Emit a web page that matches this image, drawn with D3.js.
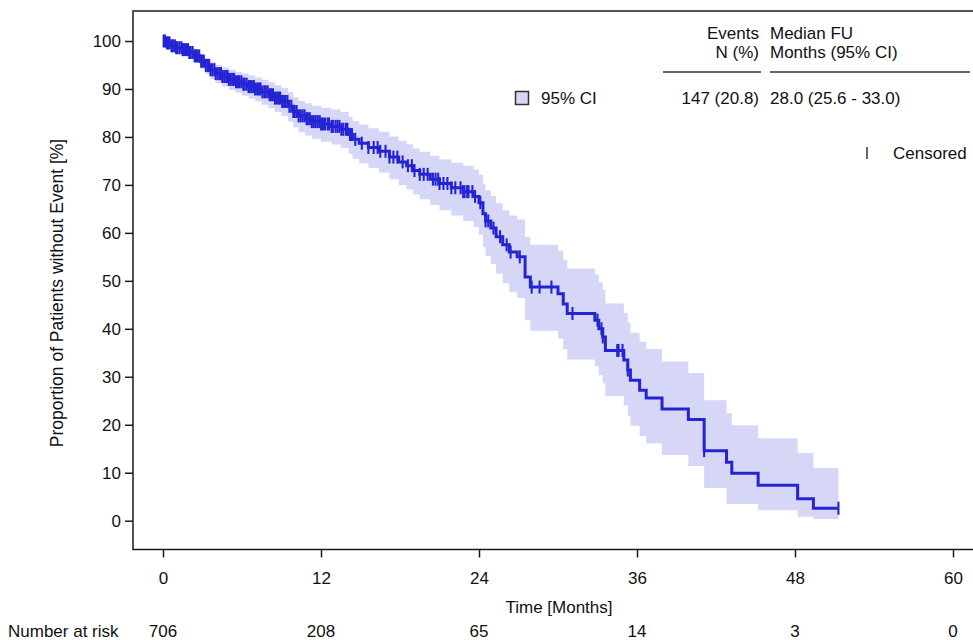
<!DOCTYPE html>
<html>
<head>
<meta charset="utf-8">
<script src="https://cdn.jsdelivr.net/npm/d3@7"></script>
<style>
  html, body { margin: 0; padding: 0; background: #fff; }
  svg { display: block; font-family: "Liberation Sans", Arial, sans-serif; }
</style>
</head>
<body>
<svg id="chart" width="973" height="640"></svg>
<script>
// ---- data ----
const stepTimes = [0,0.3,0.6,1.0,1.5,2.0,2.4,2.8,3.2,3.6,4.0,4.5,5.0,5.5,6.0,6.5,7.0,7.5,8.0,8.5,9.0,9.5,9.9,10.3,10.8,11.3,12.0,12.8,13.5,14.1,14.4,14.9,15.6,16.4,17.2,17.9,18.5,19.0,19.5,20.3,21.0,21.9,22.8,23.6,24.0,24.3,24.5,24.9,25.3,25.8,26.3,26.9,27.5,27.9,30.0,30.4,30.7,32.8,33.1,33.4,33.6,35.0,35.3,35.5,36.2,36.7,37.9,39.9,41.1,42.8,43.2,45.2,48.2,49.4,51.3];
const survival  = [100,99.6,99.0,98.6,98.2,97.6,96.9,95.8,94.9,94.0,93.2,92.6,92.0,91.5,91.0,90.5,90.0,89.4,88.8,88.1,87.4,86.4,85.3,84.4,83.8,83.2,82.7,82.2,81.6,80.5,79.5,78.7,77.8,77.0,75.8,74.8,74.0,73.0,72.2,71.2,70.3,69.4,68.6,67.6,66.3,64.0,62.5,61.0,59.2,57.5,56.0,55.0,50.8,48.7,47.3,45.2,43.2,41.8,40.0,38.3,35.5,33.5,31.4,29.3,27.2,25.6,23.3,21.1,14.6,12.2,9.9,7.4,4.6,2.6,2.6];
const ciLower   = [100,99.2,98.3,97.8,97.2,96.4,95.5,94.2,93.1,92.1,91.2,90.5,89.8,89.2,88.6,88.0,87.4,86.7,86.0,85.2,84.4,83.2,82.0,81.0,80.3,79.6,79.0,78.4,77.7,76.5,75.4,74.5,73.5,72.6,71.2,70.0,69.1,68.0,67.0,65.8,64.7,63.6,62.5,61.2,59.6,57.0,55.2,53.5,51.5,49.5,47.6,46.4,41.8,39.6,38.0,35.8,33.6,32.2,30.3,28.6,26.0,24.0,21.8,19.8,17.6,16.1,13.7,11.4,6.8,3.5,3.5,2.2,0.8,0.35,0.35];
const ciUpper   = [100,100,99.6,99.3,99.1,98.6,98.1,97.2,96.5,95.7,95.0,94.5,94.0,93.6,93.2,92.8,92.4,91.9,91.4,90.8,90.2,89.3,88.3,87.5,87.0,86.5,86.1,85.7,85.2,84.2,83.3,82.6,81.8,81.1,80.1,79.2,78.5,77.6,76.9,76.1,75.3,74.6,74.0,73.2,72.1,70.2,68.9,67.7,66.2,64.7,63.6,62.8,59.2,57.5,56.3,54.4,52.6,51.3,49.7,48.1,45.3,43.3,41.3,39.2,37.3,35.8,33.2,30.8,25.1,22.4,19.9,17.2,14.1,11.0,11.0];
const censorTimes = [0.05,0.15,0.3,0.4,0.5,0.65,0.75,0.9,1.0,1.1,1.25,1.4,1.5,1.6,1.75,1.9,2.0,2.1,2.25,2.4,2.5,2.6,2.75,2.9,3.0,3.1,3.25,3.4,3.5,3.6,3.75,3.9,4.0,4.15,4.3,4.4,4.5,4.65,4.8,4.9,5.0,5.15,5.3,5.4,5.55,5.7,5.8,5.95,6.1,6.2,6.35,6.5,6.6,6.75,6.9,7.0,7.15,7.3,7.4,7.55,7.7,7.8,7.95,8.1,8.2,8.35,8.5,8.65,8.8,8.9,9.05,9.2,9.3,9.45,9.6,9.75,9.9,10.0,10.15,10.3,10.45,10.6,10.75,10.9,11.0,11.15,11.3,11.45,11.6,11.75,11.9,12.0,12.15,12.3,12.5,12.6,12.8,12.9,13.1,13.25,13.4,13.55,13.7,13.9,14.0,14.2,14.35,14.6,15.1,15.6,16.0,16.3,16.5,16.9,17.2,17.5,17.8,18.2,18.6,18.9,19.1,19.5,19.8,20.1,20.5,20.7,20.9,21.0,21.3,21.6,21.9,22.2,22.6,22.8,22.9,23.1,23.2,23.5,23.7,24.1,24.5,24.7,25.1,25.6,26.1,26.4,27.1,28.0,28.6,29.5,31.1,33.0,33.3,33.4,34.5,34.6,34.9,35.3,41.1,51.3];
const xTicks = [0,12,24,36,48,60];
const yTicks = [0,10,20,30,40,50,60,70,80,90,100];
const atRisk = [706,208,65,14,3,0];
const legendHeader1 = ["Events","Median FU"];
const legendHeader2 = ["N (%)","Months (95% CI)"];
const legendRow = ["147 (20.8)","28.0 (25.6 - 33.0)"];

// ---- layout ----
const svg = d3.select("#chart");
const lineColor = "#2424d4";
const bandColor = "#d6d6f6";
const axisColor = "#1a1a1a";
const fs = 17;

const x = d3.scaleLinear().domain([0, 60]).range([163, 953]);
const y = d3.scaleLinear().domain([0, 100]).range([520.7, 41]);
const boxLeft = 133, boxTop = 11, boxBottom = 549.5, boxRight = 985;

const pts = stepTimes.map((t, i) => ({t, s: survival[i], lo: ciLower[i], hi: ciUpper[i]}));

// band
svg.append("path")
  .datum(pts)
  .attr("fill", bandColor)
  .attr("d", d3.area().curve(d3.curveStepAfter)
    .x(d => x(d.t)).y0(d => y(d.lo)).y1(d => y(d.hi)));

// survival line
svg.append("path")
  .datum(pts)
  .attr("fill", "none")
  .attr("stroke", lineColor)
  .attr("stroke-width", 3)
  .attr("d", d3.line().curve(d3.curveStepAfter).x(d => x(d.t)).y(d => y(d.s)));

// censor marks
function survAt(t) {
  let s = survival[0];
  for (let i = 0; i < stepTimes.length; i++) { if (stepTimes[i] <= t) s = survival[i]; else break; }
  return s;
}
svg.append("g").selectAll("line").data(censorTimes).join("line")
  .attr("x1", d => x(d)).attr("x2", d => x(d))
  .attr("y1", d => y(survAt(d)) - 6.5).attr("y2", d => y(survAt(d)) + 6.5)
  .attr("stroke", lineColor).attr("stroke-width", 2.1);

// box (left, top, bottom)
svg.append("path")
  .attr("d", `M${boxRight},${boxTop}H${boxLeft}V${boxBottom}H${boxRight}`)
  .attr("fill", "none").attr("stroke", axisColor).attr("stroke-width", 1.5);

// y axis ticks & labels
const yAxis = svg.append("g").attr("transform", `translate(${boxLeft},0)`)
  .call(d3.axisLeft(y).tickValues(yTicks).tickSize(8).tickPadding(4));
yAxis.select(".domain").remove();
yAxis.selectAll("line").attr("stroke", axisColor).attr("stroke-width", 1.5);
yAxis.selectAll("text").attr("font-size", fs).attr("fill", "#111")
  .attr("font-family", "Liberation Sans, Arial, sans-serif");

// x axis ticks & labels
const xAxis = svg.append("g").attr("transform", `translate(0,${boxBottom})`)
  .call(d3.axisBottom(x).tickValues(xTicks).tickSize(8).tickPadding(14));
xAxis.select(".domain").remove();
xAxis.selectAll("line").attr("stroke", axisColor).attr("stroke-width", 1.5);
xAxis.selectAll("text").attr("font-size", fs).attr("fill", "#111")
  .attr("font-family", "Liberation Sans, Arial, sans-serif");

// axis titles
svg.append("text").attr("x", 559).attr("y", 613).attr("text-anchor", "middle")
  .attr("font-size", fs).attr("fill", "#111").text("Time [Months]");
svg.append("text").attr("transform", "translate(63,293) rotate(-90)")
  .attr("text-anchor", "middle").attr("font-size", 17.5).attr("fill", "#111")
  .text("Proportion of Patients without Event [%]");

// number at risk
svg.append("text").attr("x", 8).attr("y", 637).attr("font-size", fs).attr("fill", "#111")
  .text("Number at risk");
svg.append("g").selectAll("text").data(atRisk).join("text")
  .attr("x", (d, i) => x(xTicks[i])).attr("y", 637).attr("text-anchor", "middle")
  .attr("font-size", fs).attr("fill", "#111").text(d => d);

// legend table
const colR = 759, colL = 770;
const lg = svg.append("g").attr("font-size", fs).attr("fill", "#111");
lg.append("text").attr("x", colR).attr("y", 39).attr("text-anchor", "end").text(legendHeader1[0]);
lg.append("text").attr("x", colL).attr("y", 39).text(legendHeader1[1]);
lg.append("text").attr("x", colR).attr("y", 58).attr("text-anchor", "end").text(legendHeader2[0]);
lg.append("text").attr("x", colL).attr("y", 58).text(legendHeader2[1]);
svg.append("line").attr("x1", 663).attr("x2", 761).attr("y1", 72).attr("y2", 72)
  .attr("stroke", "#333").attr("stroke-width", 1.3);
svg.append("line").attr("x1", 770).attr("x2", 970).attr("y1", 72).attr("y2", 72)
  .attr("stroke", "#333").attr("stroke-width", 1.3);
lg.append("text").attr("x", colR).attr("y", 104).attr("text-anchor", "end").text(legendRow[0]);
lg.append("text").attr("x", colL).attr("y", 104).text(legendRow[1]);
svg.append("rect").attr("x", 515.5).attr("y", 91.5).attr("width", 13).attr("height", 13)
  .attr("fill", bandColor).attr("stroke", "#333").attr("stroke-width", 1.5);
lg.append("text").attr("x", 541).attr("y", 104).text("95% CI");
svg.append("line").attr("x1", 867).attr("x2", 867).attr("y1", 147).attr("y2", 159)
  .attr("stroke", "#333").attr("stroke-width", 1.5);
lg.append("text").attr("x", 893).attr("y", 159).text("Censored");
</script>
</body>
</html>
